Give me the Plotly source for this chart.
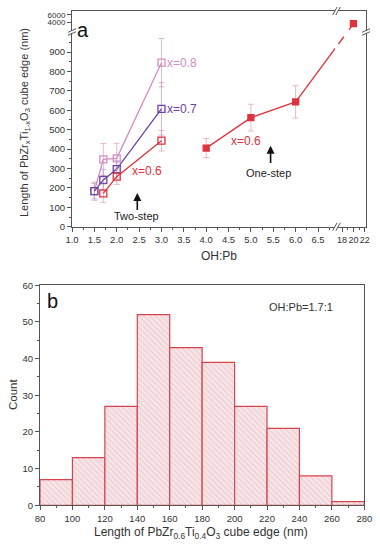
import plotly.graph_objects as go

W, H = 380, 550
FONT = "Arial, Liberation Sans, sans-serif"

# ---------------- data: panel a ----------------
x_two = [1.5, 1.7, 2.0, 3.0]
len_x08 = [183, 347, 352, 845]
err_x08 = [47, 82, 78, 125]
len_x07 = [183, 241, 297, 607]
err_x07 = [40, 55, 45, 135]
x_two_06 = [1.7, 2.0, 3.0]
len_x06_two = [172, 258, 443]
err_x06_two = [47, 40, 53]
x_one = [4.0, 5.0, 6.0]
len_one = [405, 562, 643]
err_one = [49, 69, 83]
x_one_far = [20]
len_one_far = [3700]
y_upper_ticks = [4000, 6000]

# ---------------- data: panel b ----------------
bin_left = [80, 100, 120, 140, 160, 180, 200, 220, 240, 260]
bin_width = 20
counts = [7, 13, 27, 52, 43, 39, 27, 21, 8, 1]

C08 = "#d48cc4"
C07 = "#6a42a6"
C06 = "#e0323c"
EB = "rgba(215,150,165,0.65)"
AXC = "#555555"
TXT = "#333333"

# pixel layout (figure pixels)
MAIN_X = (72, 335); BRK_X = (338, 366)
MAIN_Y = (226.7, 33); BRK_Y = (31, 11)
X_MAIN_RANGE = [1.0, 6.88]; X_BRK_RANGE = [17.3, 22.2]
Y_MAIN_RANGE = [0, 998]; Y_BRK_RANGE = [1800, 7000]

def px(x):
    return x / W

def py(y):
    return 1 - y / H

def to_px(x, y, xr, yr, xd, yd):
    X = xd[0] + (x - xr[0]) / (xr[1] - xr[0]) * (xd[1] - xd[0])
    Y = yd[0] + (y - yr[0]) / (yr[1] - yr[0]) * (yd[1] - yd[0])
    return X, Y

def from_px(X, Y, xr, yr, xd, yd):
    x = xr[0] + (X - xd[0]) / (xd[1] - xd[0]) * (xr[1] - xr[0])
    y = yr[0] + (Y - yd[0]) / (yd[1] - yd[0]) * (yr[1] - yr[0])
    return x, y

fig = go.Figure()

def sq(color, filled=False, size=7):
    return dict(symbol="square" if filled else "square-open", size=size,
                color=color, line=dict(color=color, width=1.3))

fig.add_trace(go.Scatter(x=x_two, y=len_x08, mode="lines+markers",
                         line=dict(color=C08, width=1.3), marker=sq(C08),
                         error_y=dict(type="data", array=err_x08, color=EB, thickness=1, width=3),
                         xaxis="x", yaxis="y"))
fig.add_trace(go.Scatter(x=x_two, y=len_x07, mode="lines+markers",
                         line=dict(color=C07, width=1.3), marker=sq(C07),
                         error_y=dict(type="data", array=err_x07, color="rgba(170,140,200,0.6)", thickness=1, width=3),
                         xaxis="x", yaxis="y"))
fig.add_trace(go.Scatter(x=x_two_06, y=len_x06_two, mode="lines+markers",
                         line=dict(color=C06, width=1.3), marker=sq(C06),
                         error_y=dict(type="data", array=err_x06_two, color=EB, thickness=1, width=3),
                         xaxis="x", yaxis="y"))
fig.add_trace(go.Scatter(x=x_one, y=len_one, mode="lines+markers",
                         line=dict(color=C06, width=1.3), marker=sq(C06, True, 6),
                         error_y=dict(type="data", array=err_one, color=EB, thickness=1, width=3),
                         xaxis="x", yaxis="y"))
fig.add_trace(go.Scatter(x=x_one_far, y=len_one_far, mode="markers",
                         marker=sq(C06, True, 6), xaxis="x4", yaxis="y4", cliponaxis=False))

# connector from last one-step point to far point, straight across the breaks
p_a = to_px(x_one[-1], len_one[-1], X_MAIN_RANGE, Y_MAIN_RANGE, MAIN_X, MAIN_Y)
p_b = to_px(x_one_far[0], len_one_far[0], X_BRK_RANGE, Y_BRK_RANGE, BRK_X, BRK_Y)
for (xa, ya, xr, yr, xd, yd, dash) in [
    ("x", "y", X_MAIN_RANGE, Y_MAIN_RANGE, MAIN_X, MAIN_Y, "solid"),
    ("x2", "y2", X_BRK_RANGE, Y_MAIN_RANGE, BRK_X, MAIN_Y, "dash"),
    ("x3", "y3", X_MAIN_RANGE, Y_BRK_RANGE, MAIN_X, BRK_Y, "dash"),
    ("x4", "y4", X_BRK_RANGE, Y_BRK_RANGE, BRK_X, BRK_Y, "dash"),
]:
    a = from_px(p_a[0], p_a[1], xr, yr, xd, yd)
    b = from_px(p_b[0], p_b[1], xr, yr, xd, yd)
    fig.add_trace(go.Scatter(x=[a[0], b[0]], y=[a[1], b[1]], mode="lines",
                             line=dict(color=C06, width=1.3, dash=dash),
                             xaxis=xa, yaxis=ya, hoverinfo="skip"))

# ---------------- panel b ----------------
centers = [l + bin_width / 2 for l in bin_left]
fig.add_trace(go.Bar(x=centers, y=counts, width=[bin_width] * len(counts),
                     marker=dict(color="#f7e6e8",
                                 line=dict(color="#d8434f", width=1.2),
                                 pattern=dict(shape="\\", fgcolor="#e3a4ab", size=4, solidity=0.25)),
                     xaxis="x5", yaxis="y5"))

tickfont = dict(family=FONT, size=9.5, color=TXT)
base_ax = dict(showgrid=False, zeroline=False, linecolor=AXC, linewidth=1,
               tickcolor=AXC, tickfont=tickfont, automargin=False)

def dom(a, b, f):
    lo, hi = sorted([f(a), f(b)])
    return [lo, hi]

layout = dict(
    width=W, height=H, margin=dict(l=0, r=0, t=0, b=0),
    paper_bgcolor="white", plot_bgcolor="white", showlegend=False,
    font=dict(family=FONT, color=TXT),
    xaxis=dict(base_ax, domain=dom(*MAIN_X, px), range=X_MAIN_RANGE, anchor="y",
               showline=True, ticks="outside", ticklen=4,
               tickvals=[1.0, 1.5, 2.0, 2.5, 3.0, 3.5, 4.0, 4.5, 5.0, 5.5, 6.0, 6.5],
               ticktext=["1.0", "1.5", "2.0", "2.5", "3.0", "3.5", "4.0", "4.5", "5.0", "5.5", "6.0", "6.5"],
               minor=dict(dtick=0.25, ticks="outside", ticklen=2, tickcolor=AXC)),
    yaxis=dict(base_ax, domain=dom(*MAIN_Y, py), range=Y_MAIN_RANGE, anchor="x",
               showline=True, ticks="outside", ticklen=4,
               tickvals=list(range(0, 1000, 100)),
               minor=dict(dtick=50, ticks="outside", ticklen=2, tickcolor=AXC)),
    xaxis2=dict(base_ax, domain=dom(*BRK_X, px), range=X_BRK_RANGE, anchor="y2",
                showline=True, ticks="outside", ticklen=4, tickvals=[18, 20, 22],
                tickangle=0, tickfont=dict(family=FONT, size=9, color=TXT),
                minor=dict(dtick=1, ticks="outside", ticklen=2, tickcolor=AXC)),
    yaxis2=dict(base_ax, domain=dom(*MAIN_Y, py), range=Y_MAIN_RANGE, anchor="x2",
                side="right", showline=True, showticklabels=False, ticks=""),
    xaxis3=dict(base_ax, domain=dom(*MAIN_X, px), range=X_MAIN_RANGE, anchor="y3",
                side="top", showline=True, showticklabels=False, ticks=""),
    yaxis3=dict(base_ax, domain=dom(*BRK_Y, py), range=Y_BRK_RANGE, anchor="x3",
                showline=True, ticks="outside", ticklen=4, tickmode="array",
                tickvals=y_upper_ticks, ticktext=[str(v) for v in y_upper_ticks],
                ticklabeloverflow="allow", tickfont=dict(family=FONT, size=8, color=TXT)),
    xaxis4=dict(base_ax, domain=dom(*BRK_X, px), range=X_BRK_RANGE, anchor="y4",
                side="top", showline=True, showticklabels=False, ticks=""),
    yaxis4=dict(base_ax, domain=dom(*BRK_Y, py), range=Y_BRK_RANGE, anchor="x4",
                side="right", showline=True, showticklabels=False, ticks=""),
    xaxis5=dict(base_ax, domain=dom(40, 364.3, px), range=[80, 280], anchor="y5",
                showline=True, mirror=True, ticks="outside", ticklen=4, dtick=20,
                minor=dict(dtick=10, ticks="outside", ticklen=2, tickcolor=AXC)),
    yaxis5=dict(base_ax, domain=dom(505.3, 285.3, py), range=[0, 60], anchor="x5",
                showline=True, mirror=True, ticks="outside", ticklen=4, dtick=10,
                minor=dict(dtick=5, ticks="outside", ticklen=2, tickcolor=AXC)),
)
fig.update_layout(**layout)

# break marks
shapes = []
def brk(cx, cy, dx, dy, gapx, gapy):
    for k in (-1, 1):
        shapes.append(dict(type="line", xref="paper", yref="paper",
                           x0=px(cx - dx + k * gapx), y0=py(cy + dy + k * gapy),
                           x1=px(cx + dx + k * gapx), y1=py(cy - dy + k * gapy),
                           line=dict(color=AXC, width=1)))
brk(336.5, 226.7, 2.2, 4, 1.6, 0)
brk(336.5, 11, 2.2, 4, 1.6, 0)
brk(72, 32, 4, 1.8, 0, 1.5)
brk(366, 32, 4, 1.8, 0, 1.5)
fig.update_layout(shapes=shapes)

ann = []
def pa(text, x, y, size=11, color=TXT, angle=0, xanchor="center"):
    ann.append(dict(text=text, x=px(x), y=py(y), xref="paper", yref="paper",
                    showarrow=False, font=dict(family=FONT, size=size, color=color),
                    textangle=angle, xanchor=xanchor, yanchor="middle"))

pa("a", 83, 30, size=20, color="#111111")
pa("b", 52, 301, size=20, color="#111111")
pa("Length of PbZr<sub>x</sub>Ti<sub>1-x</sub>O<sub>3</sub> cube edge (nm)", 25, 123, size=11, angle=-90)
pa("OH:Pb", 219, 256, size=12)
pa("Count", 13, 395, size=11.5, angle=-90)
pa("Length of PbZr<sub>0.6</sub>Ti<sub>0.4</sub>O<sub>3</sub> cube edge (nm)", 201, 533, size=12)
pa("OH:Pb=1.7:1", 301, 307, size=11)

def da(text, x, y, color, size=12, xanchor="left", xshift=0):
    ann.append(dict(text=text, x=x, y=y, xref="x", yref="y", showarrow=False,
                    font=dict(family=FONT, size=size, color=color),
                    xanchor=xanchor, yanchor="middle", xshift=xshift))

da("x=0.8", x_two[-1], len_x08[-1], C08, xshift=4)
da("x=0.7", x_two[-1], len_x07[-1], C07, xshift=4)
da("x=0.6", 2.3, 285, C06)
da("x=0.6", 4.5, 440, C06)
da("Two-step", 2.44, 55, "#222222", size=11, xanchor="center")
da("One-step", 5.39, 275, "#222222", size=11, xanchor="center")
for (xa, tip, tail) in [(2.46, 173, 78), (5.44, 417, 320)]:
    ann.append(dict(text="", x=xa, y=tip, ax=xa, ay=tail, xref="x", yref="y",
                    axref="x", ayref="y", showarrow=True, arrowhead=2,
                    arrowsize=1, arrowwidth=1.6, arrowcolor="#111111"))
fig.update_layout(annotations=ann)

fig.write_html("out.html", config={"displayModeBar": False},
               post_script="document.body.style.margin='0px';")
